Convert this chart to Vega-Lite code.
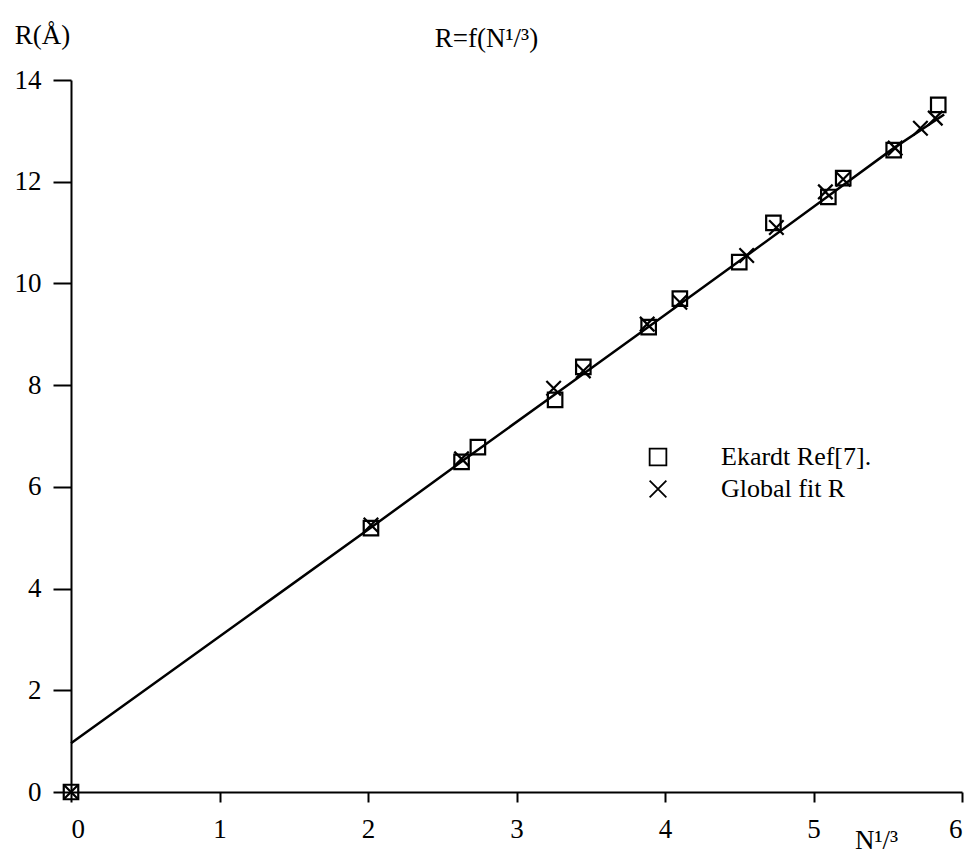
{
  "$schema": "https://vega.github.io/schema/vega-lite/v6.json",
  "autosize": "none",
  "width": 891,
  "height": 712,
  "padding": {"left": 71, "top": 80, "right": 9, "bottom": 63},
  "background": "white",
  "title": {
    "text": "R=f(N¹/³)",
    "anchor": "middle",
    "dx": -30,
    "dy": 32,
    "offset": 0,
    "font": "Liberation Serif",
    "fontSize": 27,
    "fontWeight": "normal",
    "color": "black"
  },
  "config": {
    "view": {"stroke": null},
    "axis": {
      "grid": false,
      "domainColor": "black",
      "domainWidth": 2,
      "tickColor": "black",
      "tickWidth": 2,
      "labelFont": "Liberation Serif",
      "labelFontSize": 27,
      "labelColor": "black",
      "titleFont": "Liberation Serif",
      "titleFontSize": 27,
      "titleFontWeight": "normal",
      "titleColor": "black"
    },
    "legend": {
      "labelFont": "Liberation Serif",
      "labelFontSize": 26,
      "labelColor": "black"
    }
  },
  "datasets": {
    "pts": [
      {"series": "Ekardt Ref[7].", "n13": 0.0, "R": 0.0},
      {"series": "Ekardt Ref[7].", "n13": 2.02, "R": 5.19},
      {"series": "Ekardt Ref[7].", "n13": 2.63, "R": 6.49},
      {"series": "Ekardt Ref[7].", "n13": 2.74, "R": 6.78},
      {"series": "Ekardt Ref[7].", "n13": 3.26, "R": 7.71},
      {"series": "Ekardt Ref[7].", "n13": 3.45, "R": 8.36},
      {"series": "Ekardt Ref[7].", "n13": 3.89, "R": 9.14},
      {"series": "Ekardt Ref[7].", "n13": 4.1, "R": 9.7},
      {"series": "Ekardt Ref[7].", "n13": 4.5, "R": 10.42},
      {"series": "Ekardt Ref[7].", "n13": 4.73, "R": 11.19},
      {"series": "Ekardt Ref[7].", "n13": 5.1, "R": 11.7},
      {"series": "Ekardt Ref[7].", "n13": 5.2, "R": 12.07},
      {"series": "Ekardt Ref[7].", "n13": 5.54, "R": 12.62},
      {"series": "Ekardt Ref[7].", "n13": 5.84, "R": 13.51},
      {"series": "Global fit R", "n13": 0.0, "R": 0.0},
      {"series": "Global fit R", "n13": 2.02, "R": 5.25},
      {"series": "Global fit R", "n13": 2.63, "R": 6.55},
      {"series": "Global fit R", "n13": 3.25, "R": 7.94},
      {"series": "Global fit R", "n13": 3.45, "R": 8.28},
      {"series": "Global fit R", "n13": 3.88, "R": 9.2},
      {"series": "Global fit R", "n13": 4.1, "R": 9.63},
      {"series": "Global fit R", "n13": 4.55, "R": 10.55},
      {"series": "Global fit R", "n13": 4.75, "R": 11.1},
      {"series": "Global fit R", "n13": 5.08, "R": 11.8},
      {"series": "Global fit R", "n13": 5.2, "R": 12.05},
      {"series": "Global fit R", "n13": 5.55, "R": 12.66},
      {"series": "Global fit R", "n13": 5.72, "R": 13.05},
      {"series": "Global fit R", "n13": 5.82, "R": 13.25}
    ],
    "fit": [
      {"n13": 0.0, "R": 0.96},
      {"n13": 2.02, "R": 5.2},
      {"n13": 2.64, "R": 6.52},
      {"n13": 3.26, "R": 7.82},
      {"n13": 3.89, "R": 9.15},
      {"n13": 4.51, "R": 10.46},
      {"n13": 5.1, "R": 11.72},
      {"n13": 5.54, "R": 12.66},
      {"n13": 5.88, "R": 13.32}
    ]
  },
  "layer": [
    {
      "data": {"name": "fit"},
      "mark": {"type": "line", "color": "black", "strokeWidth": 2.5},
      "encoding": {
        "x": {
          "field": "n13",
          "type": "quantitative",
          "scale": {"domain": [0, 6], "nice": false, "zero": false},
          "axis": {
            "values": [0, 1, 2, 3, 4, 5, 6],
            "format": "d",
            "tickSize": 10,
            "labelPadding": 14,
            "title": "N¹/³",
            "titleX": 805,
            "titleY": 48,
            "titleAlign": "center",
            "titleBaseline": "middle"
          }
        },
        "y": {
          "field": "R",
          "type": "quantitative",
          "scale": {"domain": [0, 14], "nice": false, "zero": false},
          "axis": {
            "values": [0, 2, 4, 6, 8, 10, 12, 14],
            "format": "d",
            "tickSize": 18,
            "labelPadding": 12,
            "title": "R(Å)",
            "titleAngle": 0,
            "titleX": -29,
            "titleY": -45,
            "titleAlign": "center",
            "titleBaseline": "middle"
          }
        }
      }
    },
    {
      "data": {"name": "pts"},
      "mark": {"type": "point", "filled": false, "color": "black", "opacity": 1, "strokeWidth": 2.2, "size": 210},
      "encoding": {
        "x": {"field": "n13", "type": "quantitative"},
        "y": {"field": "R", "type": "quantitative"},
        "shape": {
          "field": "series",
          "type": "nominal",
          "scale": {
            "domain": ["Ekardt Ref[7].", "Global fit R"],
            "range": ["square", "M-1,-1L1,1M-1,1L1,-1"]
          },
          "legend": {
            "title": null,
            "orient": "none",
            "legendX": 574,
            "legendY": 364,
            "padding": 0,
            "symbolSize": 280,
            "symbolOpacity": 1,
            "symbolStrokeWidth": 1.8,
            "symbolStrokeColor": "black",
            "symbolFillColor": "transparent",
            "labelOffset": 50,
            "rowPadding": 6
          }
        }
      }
    }
  ]
}
